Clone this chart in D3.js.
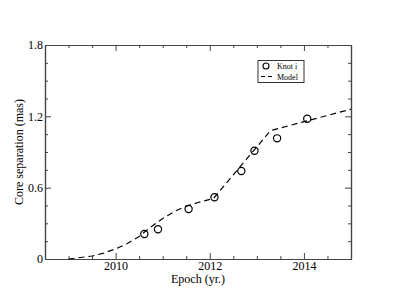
<!DOCTYPE html>
<html><head><meta charset="utf-8">
<script src="https://cdn.jsdelivr.net/npm/d3@7"></script>
<style>body{margin:0;background:#fff}svg{display:block}text{font-family:"Liberation Serif","Times New Roman",serif;fill:#000}</style>
</head><body><svg id="c" width="395" height="305"></svg>
<script>
const knotEpoch = [2010.61, 2010.90, 2011.55, 2012.10, 2012.67, 2012.95, 2013.43, 2014.07];
const knotSep   = [0.21, 0.25, 0.42, 0.52, 0.74, 0.91, 1.015, 1.18];
const modelEpoch = [2009.0, 2009.5, 2009.75, 2010.0, 2010.25, 2010.5, 2010.75, 2011.0, 2011.25, 2011.5, 2011.75, 2012.08, 2013.29, 2015.0];
const modelSep   = [0, 0.025, 0.05, 0.085, 0.13, 0.19, 0.27, 0.34, 0.40, 0.445, 0.475, 0.51, 1.08, 1.26];
const xMajor = [2010, 2012, 2014];
const yMajor = [0, 0.6, 1.2, 1.8];
const yLabels = ["0", "0.6", "1.2", "1.8"];

const L = 45, R = 351, T = 45, B = 259;
const x = d3.scaleLinear().domain([2008.5, 2015]).range([L, R]);
const y = d3.scaleLinear().domain([0, 1.8]).range([B, T]);
const svg = d3.select("#c");
const ax = "#444";

const xMinor = d3.range(2009, 2015, 0.5).filter(v => !xMajor.includes(v));
const yMinor = d3.range(0.15, 1.8, 0.15).filter(v => !yMajor.some(m => Math.abs(m - v) < 1e-6));

const gB = svg.append("g").attr("transform", `translate(0,${B})`)
  .call(d3.axisBottom(x).tickValues(xMajor).tickFormat(d3.format("d")).tickSizeInner(-6).tickSizeOuter(0).tickPadding(2));
const gBm = svg.append("g").attr("transform", `translate(0,${B})`)
  .call(d3.axisBottom(x).tickValues(xMinor).tickFormat("").tickSizeInner(-3).tickSizeOuter(0));
const gT = svg.append("g").attr("transform", `translate(0,${T})`)
  .call(d3.axisTop(x).tickValues(xMajor).tickFormat("").tickSizeInner(-6).tickSizeOuter(0));
const gTm = svg.append("g").attr("transform", `translate(0,${T})`)
  .call(d3.axisTop(x).tickValues(xMinor).tickFormat("").tickSizeInner(-3).tickSizeOuter(0));
const gL = svg.append("g").attr("transform", `translate(${L},0)`)
  .call(d3.axisLeft(y).tickValues(yMajor).tickFormat((d, i) => yLabels[i]).tickSizeInner(-6).tickSizeOuter(0).tickPadding(2));
const gLm = svg.append("g").attr("transform", `translate(${L},0)`)
  .call(d3.axisLeft(y).tickValues(yMinor).tickFormat("").tickSizeInner(-3).tickSizeOuter(0));
const gR = svg.append("g").attr("transform", `translate(${R},0)`)
  .call(d3.axisRight(y).tickValues(yMajor).tickFormat("").tickSizeInner(-6).tickSizeOuter(0));
const gRm = svg.append("g").attr("transform", `translate(${R},0)`)
  .call(d3.axisRight(y).tickValues(yMinor).tickFormat("").tickSizeInner(-3).tickSizeOuter(0));

[gB, gBm, gT, gTm, gL, gLm, gR, gRm].forEach(g => {
  g.selectAll(".domain").attr("stroke", ax).attr("stroke-width", 1.2);
  g.selectAll(".tick line").attr("stroke", ax).attr("stroke-width", 1);
  g.selectAll("text").style("font-family", '"Liberation Serif",serif').style("font-size", "12px").attr("fill", "#000");
});

// model line
const model = modelEpoch.map((e, i) => [e, modelSep[i]]);
svg.append("path").datum(model)
  .attr("fill", "none").attr("stroke", "#000").attr("stroke-width", 1.2)
  .attr("stroke-dasharray", "6,4")
  .attr("d", d3.line().x(d => x(d[0])).y(d => y(d[1])));

// knots
svg.append("g").selectAll("circle").data(knotEpoch.map((e, i) => [e, knotSep[i]]))
  .join("circle").attr("cx", d => x(d[0])).attr("cy", d => y(d[1])).attr("r", 3.6)
  .attr("fill", "none").attr("stroke", "#000").attr("stroke-width", 1.2);

// axis titles
svg.append("text").attr("x", (L + R) / 2).attr("y", 283).attr("text-anchor", "middle")
  .style("font-size", "12px").text("Epoch (yr.)");
svg.append("text").attr("transform", `translate(23,${(T + B) / 2}) rotate(-90)`).attr("text-anchor", "middle")
  .style("font-size", "12px").text("Core separation (mas)");

// legend
const lg = svg.append("g");
lg.append("rect").attr("x", 258).attr("y", 60.5).attr("width", 46).attr("height", 22)
  .attr("fill", "#fff").attr("stroke", "#333").attr("stroke-width", 1);
lg.append("circle").attr("cx", 266).attr("cy", 66).attr("r", 3).attr("fill", "none").attr("stroke", "#000").attr("stroke-width", 1.1);
lg.append("line").attr("x1", 261).attr("x2", 273).attr("y1", 76.5).attr("y2", 76.5)
  .attr("stroke", "#000").attr("stroke-width", 1.1).attr("stroke-dasharray", "4,3");
lg.append("text").attr("x", 277).attr("y", 69).style("font-size", "8px").text("Knot i");
lg.append("text").attr("x", 277).attr("y", 79.5).style("font-size", "8px").text("Model");
</script></body></html>
